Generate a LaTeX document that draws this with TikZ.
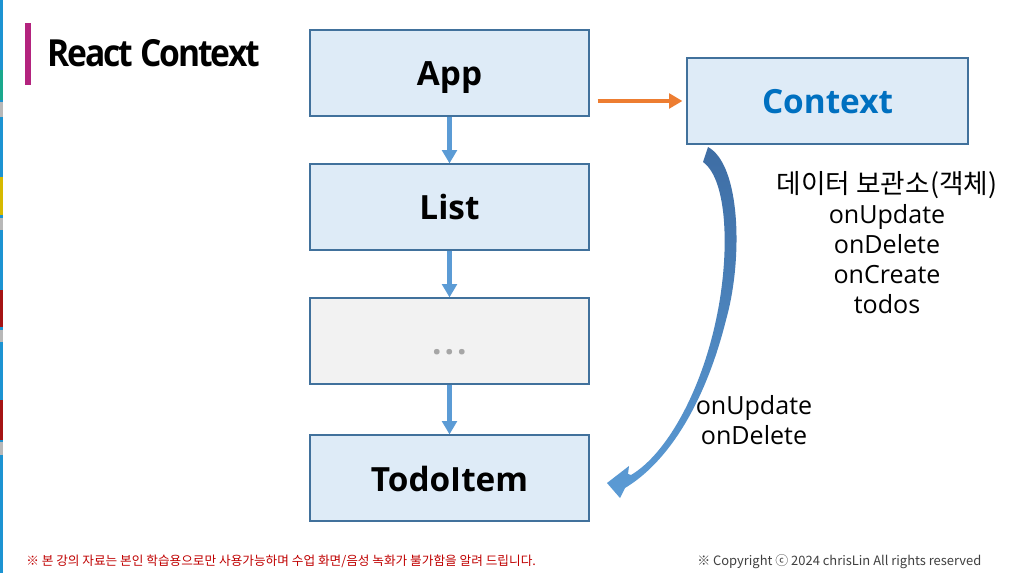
\documentclass[tikz,border=0pt]{standalone}
\usepackage{fontspec}
\setmainfont{Open Sans}
\newfontfamily\kr{Noto Sans CJK KR}
\usetikzlibrary{arrows.meta}
\definecolor{boxfill}{HTML}{DEEBF7}
\definecolor{boxline}{HTML}{41719C}
\definecolor{grayfill}{HTML}{F2F2F2}
\definecolor{dotgray}{HTML}{A6A6A6}
\definecolor{arrblue}{HTML}{5B9BD5}
\definecolor{arrdark}{HTML}{3E6DA4}
\definecolor{arrorange}{HTML}{ED7D31}
\definecolor{ctxblue}{HTML}{0070C0}
\definecolor{barmag}{HTML}{B3237E}
\definecolor{footred}{HTML}{C00000}
\definecolor{footgray}{HTML}{404040}
\definecolor{stripblue}{HTML}{1C93D2}
\definecolor{stripgreen}{HTML}{1AA88C}
\definecolor{stripyellow}{HTML}{D6B900}
\definecolor{stripred}{HTML}{A51414}
\definecolor{stripgray}{HTML}{B8B8B8}
\tikzset{
  compbox/.style={draw=boxline, line width=0.9pt, fill=boxfill, minimum width=209.25pt, minimum height=64.5pt, inner sep=0pt,
    font=\fontsize{25}{28}\selectfont\bfseries, text height=19.5pt, text depth=0pt},
  downarrow/.style={draw=arrblue, line width=3.4pt, -{Triangle[width=11pt,length=10pt]}},
  sidearrow/.style={draw=arrorange, line width=3.2pt, -{Triangle[width=11pt,length=10pt]}},
  label/.style={font=\fontsize{18.8}{22.5}\selectfont, align=center, inner sep=0pt},
}
\begin{document}
\begin{tikzpicture}[x=0.75pt,y=-0.75pt]
\useasboundingbox (0,0) rectangle (1020,573);
\fill[white] (0,0) rectangle (1020,573);
% left window strip
\fill[stripblue] (0,0) rectangle (3,573);
\fill[stripgreen] (0,70) rectangle (3,100);
\fill[stripgray] (0,102) rectangle (3,117);
\fill[stripyellow] (0,177) rectangle (3,215);
\fill[stripgray] (0,218) rectangle (3,230);
\fill[stripred] (0,290) rectangle (3,327);
\fill[stripgray] (0,330) rectangle (3,342);
\fill[stripred] (0,400) rectangle (3,440);
\fill[stripgray] (0,442) rectangle (3,455);
% title
\fill[barmag] (25,23) rectangle (31,85);
\node[anchor=base west, inner sep=0pt, font=\fontsize{28}{30}\selectfont\bfseries] (title) at (47,67) {\scalebox{0.9}[1]{\addfontfeatures{LetterSpace=-6}React Context}};
% boxes
\node[compbox] (app) at (449.5,73) {App};
\node[compbox] (list) at (449.5,207) {List};
\node[compbox, fill=grayfill, text=dotgray] (dots) at (449.5,341) {\addfontfeatures{LetterSpace=9}...};
\node[compbox] (todo) at (449.5,478) {TodoItem};
\node[compbox, minimum width=210.75pt, text=ctxblue] (ctx) at (827.5,101) {Context};
% connectors
\draw[downarrow] (app.south) -- (list.north);
\draw[downarrow] (list.south) -- (dots.north);
\draw[downarrow] (dots.south) -- (todo.north);
\draw[sidearrow, shorten <=6pt, shorten >=3pt] (app.east |- ctx.west) -- (ctx.west);
% curved block arrow
\shade[top color=arrdark, bottom color=arrblue, draw=none]
  (708,147) .. controls (741,165) and (743,260) .. (726,320)
  .. controls (706,400) and (670,461) .. (625,488)
  -- (620,498) -- (607,483) -- (629,466) -- (628,474) -- (631,475)
  .. controls (665,455) and (700,395) .. (716,320)
  .. controls (730,255) and (728,180) .. (703,162) -- cycle;
% labels
\node[label] (ctxlabel) at (887,243) {{\kr\fontsize{20}{22.5}\selectfont 데이터 보관소(객체)}\\onUpdate\\onDelete\\onCreate\\todos};
\node[label] (flowlabel) at (754,420) {onUpdate\\onDelete};
% footer
\node[anchor=west, inner sep=0pt, text=footred, font=\kr\fontsize{9.5}{10}\selectfont] (footl) at (26,561) {※ 본 강의 자료는 본인 학습용으로만 사용가능하며 수업 화면/음성 녹화가 불가함을 알려 드립니다.};
\node[anchor=west, inner sep=0pt, text=footgray, font=\kr\fontsize{9.7}{10}\selectfont] (footr) at (697,562) {※ Copyright ⓒ 2024 chrisLin All rights reserved};
\end{tikzpicture}
\end{document}
